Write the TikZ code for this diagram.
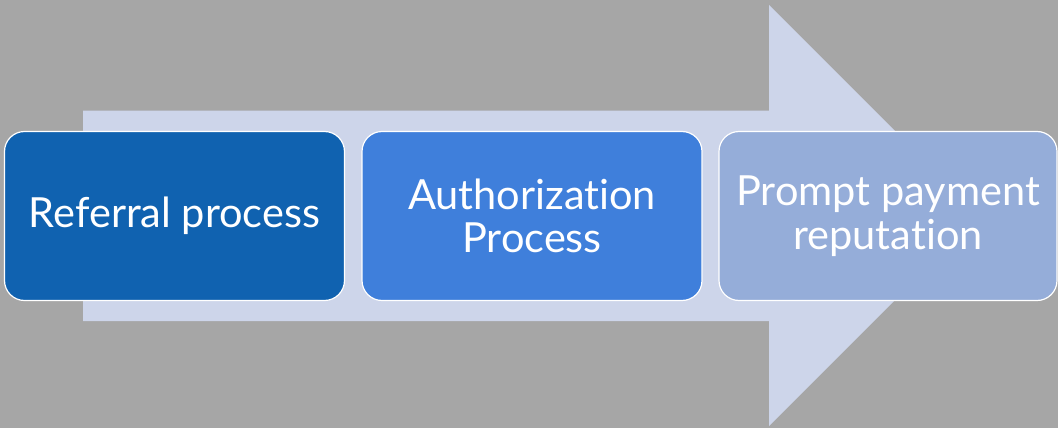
\documentclass[tikz,border=0pt]{standalone}
\usepackage{fontspec}
\setmainfont{Lato}[Ligatures={NoCommon,NoRare,NoContextual}]
\definecolor{bgc}{HTML}{A6A6A6}
\definecolor{arrc}{HTML}{CDD5EA}
\definecolor{boxa}{HTML}{1062B0}
\definecolor{boxb}{HTML}{3F7FDB}
\definecolor{boxc}{HTML}{95ADD9}
\tikzset{
  stepbox/.style={draw=white, line width=1.2pt, rounded corners=20pt, text=white,
    minimum width=340pt, minimum height=169pt, align=center, inner sep=0pt,
    font=\fontsize{41.5}{43.5}\selectfont},
}
\begin{document}
\begin{tikzpicture}[x=1pt,y=-1pt]
\fill[bgc] (0,0) rectangle (1058,428);
\useasboundingbox (0,0) rectangle (1058,428);
\fill[arrc] (83,110.5) -- (769,110.5) -- (769,5) -- (979.5,215.5) -- (769,426) -- (769,321) -- (83,321) -- cycle;
\node[stepbox, fill=boxa] (b1) at (174.5,216) {Referral process};
\node[stepbox, fill=boxb] (b2) at (532,216) {Authorization\\Process};
\node[stepbox, fill=boxc, minimum width=338pt] (b3) at (888,216) {Prompt payment\\reputation};
\end{tikzpicture}
\end{document}
